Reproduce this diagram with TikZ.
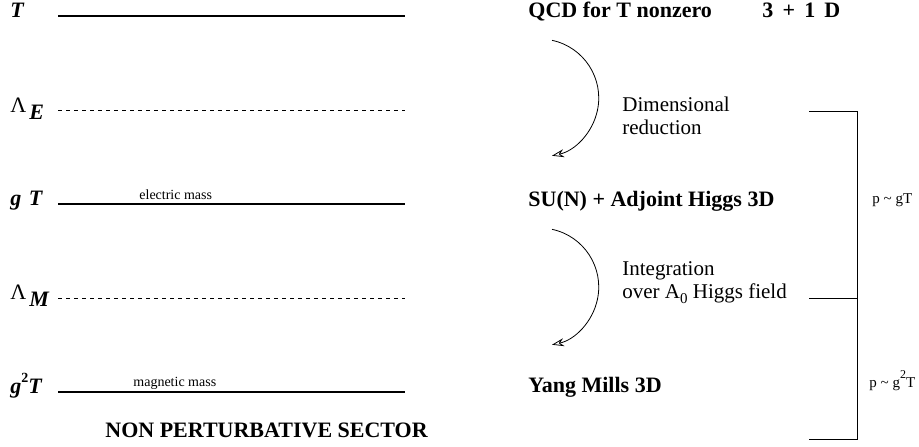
\documentclass[tikz,border=0pt]{standalone}
\usepackage{fontspec}
\setmainfont{Liberation Serif}
\usetikzlibrary{arrows.meta,positioning}
\tikzset{
    >=Stealth,
    every node/.style={inner sep=0pt}
}

\begin{document}
\begin{tikzpicture}[x=0.5pt,y=0.5pt]
  % styles for scale lines, labels and the reduction steps
  \tikzset{
    level/.style={line width=1.3pt},
    cutoff/.style={line width=0.4pt, dash pattern=on 2pt off 2pt},
    scalelbl/.style={anchor=base west, font=\fontsize{11}{13}\selectfont\bfseries\itshape},
    theory/.style={anchor=base west, font=\fontsize{11}{13}\selectfont\bfseries},
    stepnote/.style={anchor=base west, font=\fontsize{10.5}{11.5}\selectfont},
    massnote/.style={anchor=base west, font=\fontsize{7}{8}\selectfont},
    momnote/.style={anchor=base west, font=\fontsize{7.5}{9}\selectfont},
    flow/.style={->, >={Stealth[open,length=6pt,width=4pt]}, line width=0.4pt},
    bracket/.style={line width=0.5pt}
  }
  \useasboundingbox (0,0) rectangle (919,-446);

  % energy scales on the left
  \node[scalelbl] (sT)  at (10,-17)  {T};
  \node[scalelbl] (sLE) at (10,-112) {\mdseries\upshape Λ\hspace{1.5pt}\raisebox{-3.5pt}{\bfseries\itshape E}};
  \node[scalelbl] (sgT) at (10,-205) {g\hspace{1pt} T};
  \node[scalelbl] (sLM) at (10,-299) {\mdseries\upshape Λ\hspace{1.5pt}\raisebox{-3.5pt}{\bfseries\itshape M}};
  \node[scalelbl] (sg2T) at (10,-393) {g\raisebox{5.5pt}{\upshape\fontsize{7}{8}\selectfont 2}T};

  \coordinate (tL)  at (58,-16);  \coordinate (tR)  at (405,-16);
  \coordinate (leL) at (58,-110); \coordinate (leR) at (405,-110);
  \coordinate (gL)  at (58,-204); \coordinate (gR)  at (405,-204);
  \coordinate (lmL) at (58,-298); \coordinate (lmR) at (405,-298);
  \coordinate (mL)  at (58,-392); \coordinate (mR)  at (405,-392);

  \draw[level]  (tL) -- (tR);
  \draw[cutoff] (leL) -- (leR);
  \draw[level]  (gL) -- (gR);
  \draw[cutoff] (lmL) -- (lmR);
  \draw[level]  (mL) -- (mR);

  \node[massnote] (elmass) at (139,-199) {electric mass};
  \node[massnote] (mgmass) at (133,-386) {magnetic mass};
  \node[theory]   (nonpert) at (105,-437) {NON PERTURBATIVE SECTOR};

  % effective theories on the right
  \node[theory] (qcd)  at (528,-17)  {QCD for T nonzero};
  \node[theory] (dim4) at (762,-17)  {3 \,+\, 1 \,D};
  \node[theory] (suN)  at (528,-206) {SU(N) + Adjoint Higgs 3D};
  \node[theory] (ym)   at (528,-392) {Yang Mills 3D};

  \node[stepnote] (dr1) at (622,-111) {Dimensional};
  \node[stepnote] (dr2) at (622,-134) {reduction};
  \node[stepnote] (in1) at (622,-275) {Integration};
  \node[stepnote] (in2) at (622,-298) {over A\raisebox{-2.5pt}{\fontsize{7.5}{8}\selectfont 0} Higgs field};

  \coordinate (red1) at (552,-40.3);
  \coordinate (red2) at (552,-229.3);
  \draw[flow] (red1) arc[start angle=78, end angle=-78, radius=59];
  \draw[flow] (red2) arc[start angle=78, end angle=-78, radius=59];

  % momentum ranges
  \coordinate (bTop) at (809,-111);  \coordinate (bTopR) at (857,-111);
  \coordinate (bMid) at (809,-298);  \coordinate (bMidR) at (857,-298);
  \coordinate (bBot) at (809,-439);  \coordinate (bBotR) at (857,-439);
  \draw[bracket] (bTop) -- (bTopR) -- (bBotR) -- (bBot);
  \draw[bracket] (bMid) -- (bMidR);

  \node[momnote] (pg)  at (872,-203) {p \textasciitilde\ gT};
  \node[momnote] (pg2) at (869,-387) {p \textasciitilde\ g\raisebox{4.5pt}{\fontsize{6}{7}\selectfont 2}T};
\end{tikzpicture}
\end{document}
